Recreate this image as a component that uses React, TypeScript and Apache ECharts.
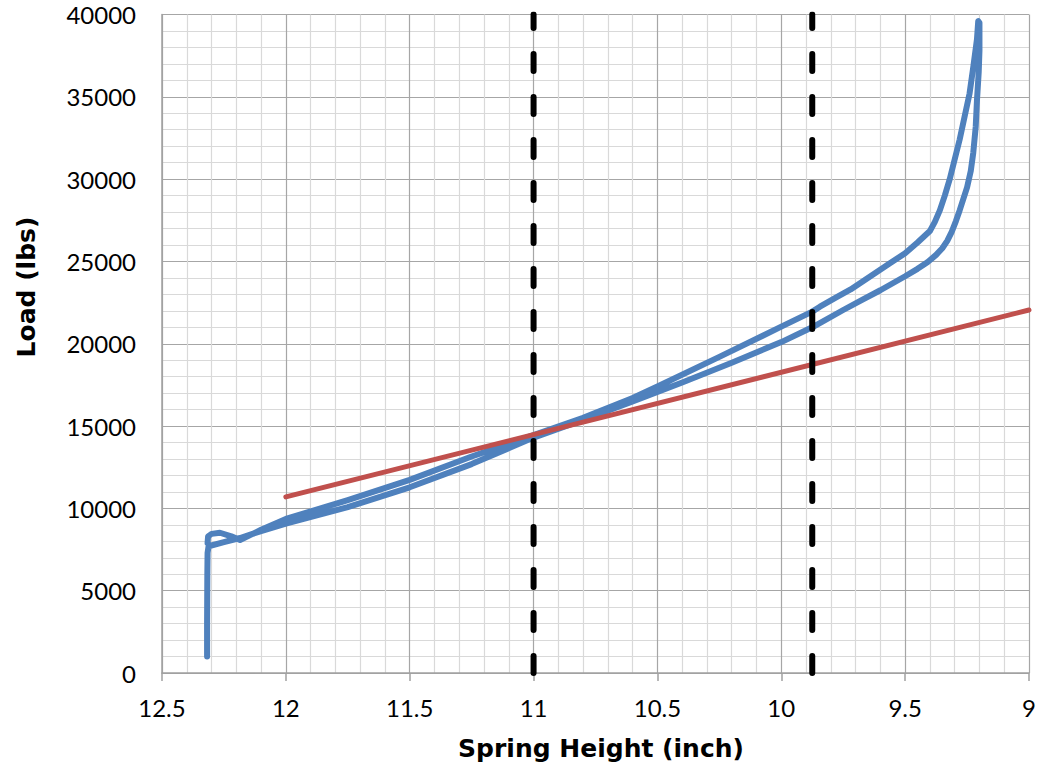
import React, { useEffect, useRef } from "react";
import * as echarts from "echarts";

// Loading branch (starts at the vertical rise, ends at the peak)
const branchAHeight = [12.318, 12.318, 12.317, 12.316, 12.312, 12.25, 12.185, 12.1, 12.0, 11.75, 11.5, 11.25, 11.0, 10.8, 10.6, 10.4, 10.2, 10.0, 9.875, 9.75, 9.67, 9.6, 9.5, 9.45, 9.41, 9.375, 9.35, 9.33, 9.312, 9.295, 9.28, 9.25, 9.235, 9.225, 9.215, 9.21, 9.203, 9.2, 9.2];
const branchALoad = [1000, 3000, 6000, 7300, 7700, 7950, 8200, 8620, 9070, 10080, 11280, 12690, 14300, 15380, 16500, 17650, 18850, 20100, 21000, 22050, 22700, 23250, 24100, 24550, 24950, 25400, 25800, 26250, 26800, 27450, 28100, 29500, 30500, 31600, 33200, 34800, 36500, 37800, 39500];
// Return branch (from the peak back to the left)
const branchBHeight = [9.205, 9.21, 9.225, 9.24, 9.26, 9.28, 9.3, 9.32, 9.34, 9.36, 9.38, 9.4, 9.45, 9.5, 9.56, 9.64, 9.72, 9.78, 9.844, 9.875, 10.0, 10.25, 10.5, 10.6, 10.8, 11.0, 11.25, 11.5, 11.75, 12.0, 12.1, 12.185, 12.22, 12.266, 12.3, 12.314, 12.316];
const branchBLoad = [39600, 38500, 36800, 35200, 33800, 32400, 31200, 30000, 29000, 28100, 27400, 26850, 26150, 25500, 24900, 24100, 23300, 22800, 22250, 21950, 21040, 19200, 17400, 16700, 15500, 14450, 13150, 11730, 10500, 9360, 8700, 8080, 8300, 8520, 8450, 8300, 7900];

// Linear reference line
const refHeight = [12, 9];
const refLoad = [10700, 22050];

// Vertical dashed markers
const markerHeights = [11, 9.875];
const loadRange = [0, 40000];

const xTicks = { min: 9, max: 12.5, interval: 0.5 };
const yTicks = { min: 0, max: 40000, interval: 5000 };

const xTitle = "Spring Height (inch)";
const yTitle = "Load (lbs)";

export default function App() {
  const ref = useRef<HTMLDivElement>(null);
  useEffect(() => {
    if (!ref.current) return;
    const chart = echarts.init(ref.current, undefined, { renderer: "svg" });
    const blueData: number[][] = [];
    branchAHeight.forEach((h, i) => blueData.push([h, branchALoad[i]]));
    branchBHeight.forEach((h, i) => blueData.push([h, branchBLoad[i]]));
    const redData = refHeight.map((h, i) => [h, refLoad[i]]);
    const font = "Lato, 'DejaVu Sans', sans-serif";
    const titleFont = "'DejaVu Sans', sans-serif";
    chart.setOption({
      animation: false,
      backgroundColor: "#ffffff",
      grid: { left: 162, right: 19, top: 14.5, bottom: 98 },
      graphic: [
        {
          type: "text",
          x: 601,
          y: 748,
          style: {
            text: xTitle,
            font: `bold 25px ${titleFont}`,
            fill: "#000",
            textAlign: "center",
            textVerticalAlign: "middle",
          },
        },
        {
          type: "text",
          x: 26,
          y: 287,
          rotation: Math.PI / 2,
          style: {
            text: yTitle,
            font: `bold 25px ${titleFont}`,
            fill: "#000",
            textAlign: "center",
            textVerticalAlign: "middle",
          },
        },
      ],
      xAxis: {
        type: "value",
        inverse: true,
        min: xTicks.min,
        max: xTicks.max,
        interval: xTicks.interval,
        axisLine: { show: true, lineStyle: { color: "#a0a0a0", width: 1.5 } },
        axisTick: { show: true, length: 8, lineStyle: { color: "#a0a0a0", width: 1.5 } },
        axisLabel: { fontFamily: font, fontSize: 24, color: "#000", margin: 22 },
        splitLine: { show: true, lineStyle: { color: "#a6a6a6", width: 1.2 } },
        minorTick: { show: false, splitNumber: 5 },
        minorSplitLine: { show: true, lineStyle: { color: "#d9d9d9", width: 1.2 } },
      },
      yAxis: {
        type: "value",
        min: yTicks.min,
        max: yTicks.max,
        interval: yTicks.interval,
        axisLine: { show: true, lineStyle: { color: "#a0a0a0", width: 1.5 } },
        axisTick: { show: false },
        axisLabel: {
          fontFamily: font,
          fontSize: 24,
          color: "#000",
          margin: 26,
          formatter: (v: number) => String(v),
        },
        splitLine: { show: true, lineStyle: { color: "#a6a6a6", width: 1.2 } },
        minorTick: { show: false, splitNumber: 5 },
        minorSplitLine: { show: true, lineStyle: { color: "#d9d9d9", width: 1.2 } },
      },
      series: [
        {
          type: "line",
          data: blueData,
          showSymbol: false,
          symbol: "none",
          lineStyle: { color: "#4F81BD", width: 6, cap: "round", join: "round" },
          z: 2,
        },
        {
          type: "line",
          data: redData,
          showSymbol: false,
          symbol: "none",
          lineStyle: { color: "#C0504D", width: 5, cap: "round" },
          z: 3,
        },
        ...markerHeights.map((h) => ({
          type: "line",
          data: loadRange.map((v) => [h, v]),
          showSymbol: false,
          symbol: "none",
          lineStyle: { color: "#000000", width: 6, type: [17, 26], cap: "round" },
          z: 4,
        })),
      ],
    });
    return () => chart.dispose();
  }, []);
  return <div ref={ref} style={{ position: "fixed", left: 0, top: 0, width: 1048, height: 771 }} />;
}
